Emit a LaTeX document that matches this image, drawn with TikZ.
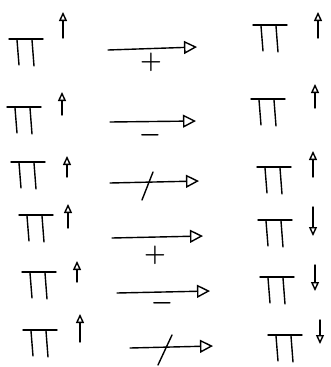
\documentclass[tikz,border=0pt]{standalone}
\usetikzlibrary{arrows.meta}
\tikzset{
  sketch/.style={line width=1.4pt, line cap=round},
  pisign/.pic={
    \draw[sketch] (-17,0) -- (17,0);
    \draw[sketch] (-9,1) -- (-7,26);
    \draw[sketch] (6,1) -- (8,27);
  },
  spin/.style={sketch, -{Triangle[open,length=9pt,width=8pt]}},
  react/.style={sketch, -{Triangle[open,length=13pt,width=13pt]}},
  sign/.style={font=\Huge\boldmath, inner sep=0pt}
}

\begin{document}
\begin{tikzpicture}[x=1pt,y=-1pt]
  \useasboundingbox (0,0) rectangle (331,367);
  % left and right pi symbols
  \foreach \x/\y in {26/39, 24/107, 28/162, 36/215, 39/272, 40/330,
                     270/25, 268/99, 274/167, 275/220, 277/277, 285/335}
    \pic at (\x,\y) {pisign};
  % spins up
  \foreach \x/\t/\b in {63/12/38, 62/92/115, 67/156/177, 68/204/228,
                        77/261/282, 80/314/342,
                        318/12/38, 315/84/108, 313/151/177}
    \draw[spin] (\x,\b) -- (\x,\t);
  % spins down
  \foreach \x/\t/\b in {313/207/236, 315/265/291, 320/320/344}
    \draw[spin] (\x,\t) -- (\x,\b);
  % reaction arrows
  \coordinate (a1) at (108,50);  \coordinate (b1) at (197,47);
  \coordinate (a2) at (110,122); \coordinate (b2) at (196,121);
  \coordinate (a3) at (110,183); \coordinate (b3) at (199,181);
  \coordinate (a4) at (112,238); \coordinate (b4) at (203,236);
  \coordinate (a5) at (117,293); \coordinate (b5) at (210,291);
  \coordinate (a6) at (130,348); \coordinate (b6) at (213,346);
  \foreach \i in {1,...,6}
    \draw[react] (a\i) -- (b\i);
  % signs under the arrows
  \node[sign] (plus1) at (151,62) {$+$};
  \node[sign] (minus2) at (150,135) {$-$};
  \draw[sketch] (153,172) -- (142,200);
  \node[sign] (plus4) at (155,255) {$+$};
  \node[sign] (minus5) at (162,303) {$-$};
  \draw[sketch] (172,335) -- (158,365);
\end{tikzpicture}
\end{document}
